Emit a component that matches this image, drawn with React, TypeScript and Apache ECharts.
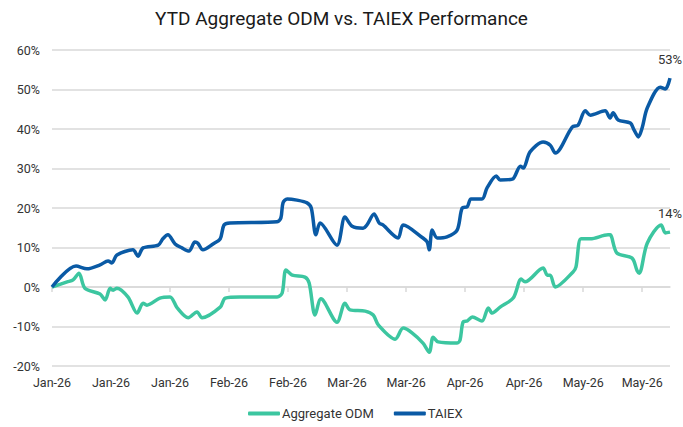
import React, { useEffect, useRef } from "react";
import * as echarts from "echarts";

const title = "YTD Aggregate ODM vs. TAIEX Performance";
const seriesNames = ["Aggregate ODM", "TAIEX"];
// x = days since Jan 1 2026, y = YTD return (%)
const odmDays = [0, 3.6, 5.0, 6.4, 7.8, 11.4, 12.6, 13.8, 14.5, 15.4, 18.0, 20.2, 21.6, 22.5, 25.6, 28.0, 29.7, 32.3, 34.4, 35.6, 39.9, 41.1, 44.6, 53.4, 54.6, 55.5, 57.0, 60.0, 61.0, 62.4, 63.8, 67.6, 69.5, 70.7, 74.3, 76.2, 77.4, 81.4, 83.3, 85.4, 88.0, 89.5, 90.4, 91.6, 96.1, 96.8, 97.5, 98.5, 99.7, 102.0, 103.5, 104.4, 106.3, 109.4, 111.3, 112.2, 116.5, 117.5, 118.2, 119.4, 123.6, 124.3, 125.5, 127.7, 131.9, 132.4, 134.0, 137.6, 138.8, 139.3, 141.2, 144.5, 145.5, 146.6];
const odmValues = [0, 1.3, 1.8, 3.5, -0.3, -1.8, -3.3, -0.3, -0.8, -0.3, -2.5, -6.6, -4.1, -4.6, -2.8, -2.5, -5.3, -7.8, -6.3, -7.8, -5.1, -2.8, -2.5, -2.5, -1.5, 4.3, 3.0, 2.5, 1.0, -7.1, -3.0, -8.9, -4.1, -5.8, -6.1, -7.1, -9.6, -13.2, -10.4, -11.6, -14.2, -16.5, -12.7, -13.9, -14.2, -13.4, -8.9, -8.6, -7.6, -8.6, -5.3, -6.6, -5.1, -2.8, 2.0, 1.3, 4.8, 3.0, 3.0, 0.0, 3.8, 5.1, 12.2, 12.2, 13.2, 13.2, 8.6, 7.3, 4.1, 3.5, 11.1, 15.7, 13.7, 13.9];
const taiexDays = [0, 5.7, 8.3, 11.4, 13.3, 14.2, 15.4, 19.2, 20.4, 21.6, 25.2, 26.3, 27.5, 29.2, 30.8, 32.5, 33.9, 34.6, 35.8, 38.2, 39.9, 40.8, 42.2, 53.4, 54.3, 54.8, 55.8, 58.1, 60.5, 61.5, 62.6, 63.6, 67.6, 69.5, 71.2, 73.8, 74.7, 76.4, 77.6, 78.5, 82.1, 83.3, 88.0, 89.0, 89.5, 90.2, 91.4, 93.7, 96.1, 97.3, 98.5, 99.4, 102.0, 103.2, 105.4, 106.3, 109.2, 111.1, 111.8, 113.4, 116.5, 118.2, 119.4, 123.4, 124.8, 126.5, 127.7, 131.2, 132.4, 133.1, 134.3, 137.2, 138.1, 139.1, 140.0, 141.2, 144.3, 145.5, 146.6];
const taiexValues = [0, 5.3, 4.6, 5.6, 6.6, 6.1, 8.1, 9.4, 7.8, 9.9, 10.6, 12.2, 13.2, 10.9, 9.9, 9.1, 11.4, 11.1, 9.4, 10.9, 12.2, 15.7, 16.2, 16.5, 17.5, 21.3, 22.3, 22.0, 21.3, 20.0, 13.2, 16.2, 10.6, 17.7, 15.4, 14.9, 15.7, 18.5, 16.2, 15.7, 12.4, 15.7, 12.4, 11.4, 9.4, 14.4, 12.4, 12.7, 14.4, 20.0, 20.3, 22.3, 22.3, 25.1, 28.1, 27.1, 27.3, 30.6, 30.1, 34.2, 36.7, 35.9, 33.9, 40.5, 41.0, 44.6, 43.5, 44.6, 42.8, 44.1, 42.3, 41.5, 39.7, 38.0, 40.3, 45.3, 50.6, 50.1, 52.9];
const tickDays = [0, 14, 28, 42, 56, 70, 84, 98, 112, 126, 140];
const tickLabels = ["Jan-26", "Jan-26", "Jan-26", "Feb-26", "Feb-26", "Mar-26", "Mar-26", "Apr-26", "Apr-26", "May-26", "May-26"];
const colors = ["#3CC6A0", "#0A5AA5"];

const FONT = "Roboto";

function makeSeries(name: string, days: number[], values: number[], color: string) {
  const last = days.length - 1;
  return {
    name,
    type: "line",
    smooth: 0.3,
    showSymbol: false,
    symbol: "none",
    lineStyle: { color, width: 3.5 },
    itemStyle: { color },
    data: days.map((d, i) => [d, values[i]]),
    markPoint: {
      symbol: "circle",
      symbolSize: 2,
      itemStyle: { color: "rgba(0,0,0,0)" },
      label: {
        show: true,
        position: "top",
        distance: 11,
        formatter: () => `${Math.round(values[last])}%`,
        color: "#333",
        fontFamily: FONT,
        fontSize: 13,
      },
      data: [{ coord: [days[last], values[last]] }],
    },
  };
}

export default function App() {
  const ref = useRef<HTMLDivElement>(null);
  useEffect(() => {
    if (!ref.current) return;
    const chart = echarts.init(ref.current, undefined, { renderer: "svg" });
    chart.setOption({
      animation: false,
      title: {
        text: title,
        left: "center",
        top: 4,
        textStyle: { fontFamily: FONT, fontSize: 19, fontWeight: "normal", color: "#1a1a1a" },
      },
      grid: { left: 52, right: 13, top: 50, bottom: 61 },
      legend: {
        data: seriesNames,
        bottom: 2,
        left: 243,
        icon: "roundRect",
        itemWidth: 32,
        itemHeight: 4,
        itemGap: 20,
        textStyle: { fontFamily: FONT, fontSize: 13, color: "#333", padding: [0, 0, 0, -3] },
      },
      xAxis: [
        {
          type: "value",
          min: 0,
          max: taiexDays[taiexDays.length - 1],
          position: "bottom",
          axisLine: { show: false, onZero: false },
          axisTick: { show: false },
          splitLine: { show: false },
          axisLabel: {
            customValues: tickDays,
            formatter: (v: number) => {
              const idx = tickDays.indexOf(v);
              return idx >= 0 ? tickLabels[idx] : "";
            },
            fontFamily: FONT,
            fontSize: 12.5,
            color: "#333",
            margin: 10,
          },
        },
        {
          type: "value",
          min: 0,
          max: taiexDays[taiexDays.length - 1],
          position: "bottom",
          axisLine: { show: true, onZero: true, lineStyle: { color: "#d9d9d9", width: 1.5 } },
          axisTick: { show: true, customValues: tickDays, length: 5, lineStyle: { color: "#d9d9d9", width: 1.5 } },
          axisLabel: { show: false },
          splitLine: { show: false },
        },
      ],
      yAxis: {
        type: "value",
        min: -20,
        max: 60,
        interval: 10,
        axisLine: { show: false },
        axisTick: { show: false },
        splitLine: { lineStyle: { color: "#d9d9d9", width: 1.5 } },
        axisLabel: {
          formatter: (v: number) => `${v}%`,
          fontFamily: FONT,
          fontSize: 12.5,
          color: "#333",
          margin: 12,
        },
      },
      series: [
        makeSeries(seriesNames[0], odmDays, odmValues, colors[0]),
        makeSeries(seriesNames[1], taiexDays, taiexValues, colors[1]),
      ],
    });
    return () => chart.dispose();
  }, []);
  return <div ref={ref} style={{ width: 683, height: 427, position: "absolute", left: 0, top: 0 }} />;
}
